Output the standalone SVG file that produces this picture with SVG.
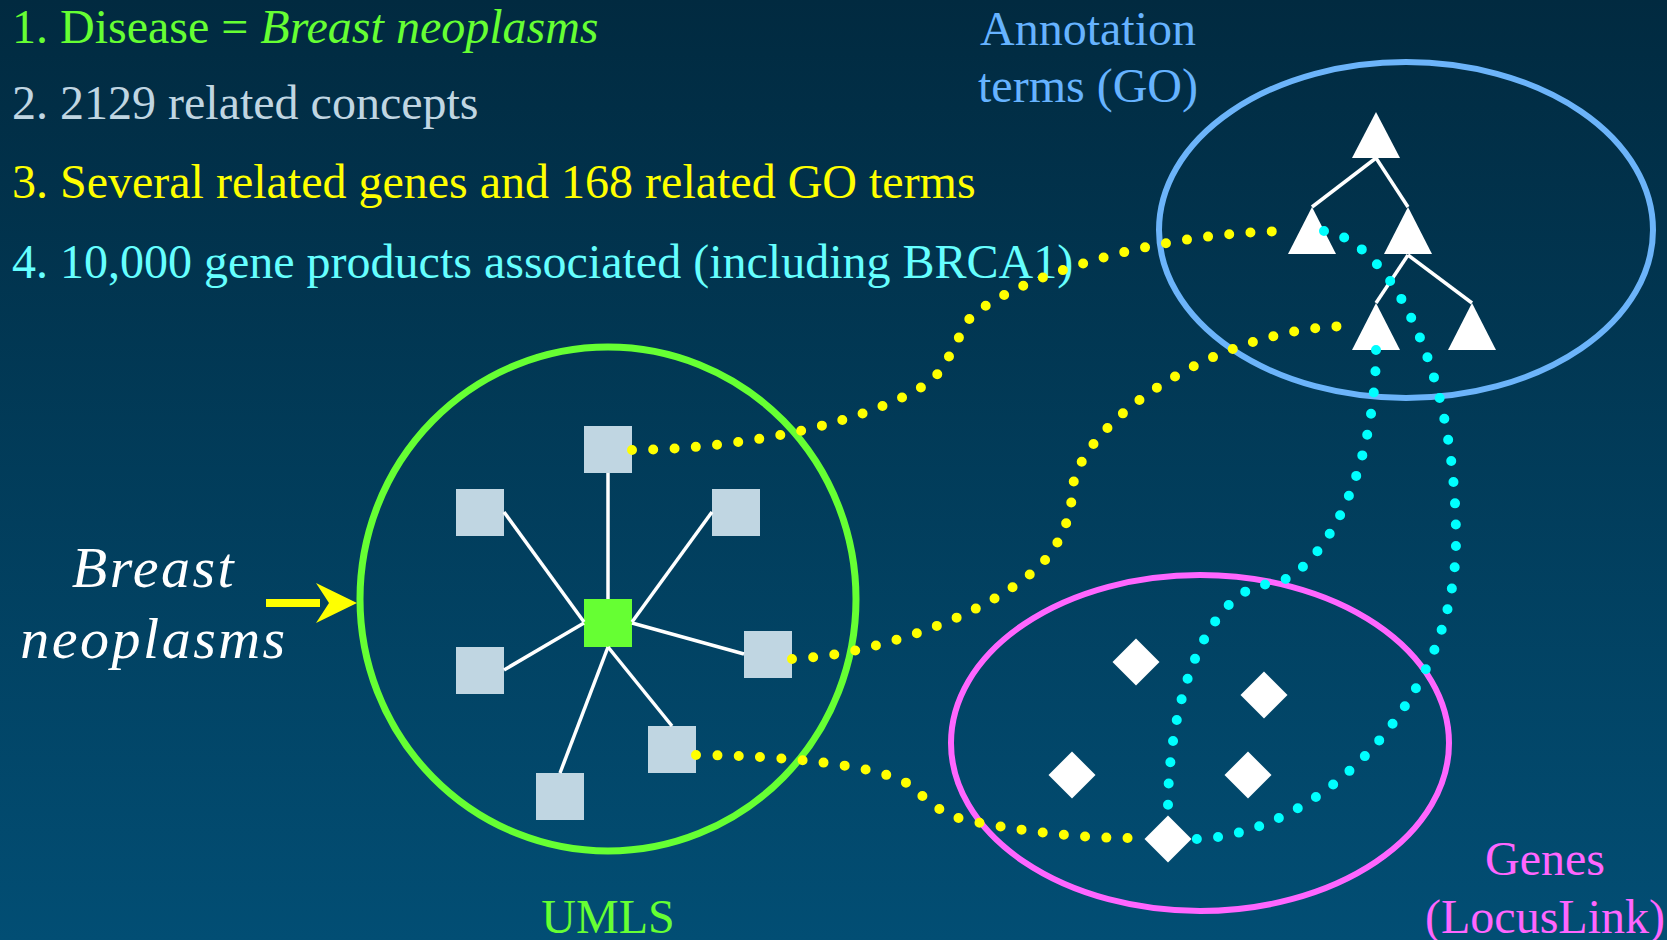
<svg xmlns="http://www.w3.org/2000/svg" width="1667" height="940" viewBox="0 0 1667 940">
<defs>
<linearGradient id="bg" x1="0" y1="0" x2="0" y2="1">
<stop offset="0" stop-color="#012a40"/>
<stop offset="1" stop-color="#024e74"/>
</linearGradient>
</defs>
<style>
text{font-family:"Liberation Serif","Times New Roman",serif;font-size:48px}
.sq{fill:#c0d6e2}
.tri,.dia{fill:#ffffff}
.edge{stroke:#ffffff;stroke-width:3.5;fill:none}
.dotY{stroke:#ffff00;stroke-width:10;stroke-linecap:round;stroke-dasharray:0 21.3;fill:none}
.dotC{stroke:#00ffff;stroke-width:10;stroke-linecap:round;stroke-dasharray:0 21.3;fill:none}
</style>
<rect x="0" y="0" width="1667" height="940" fill="url(#bg)"/>

<g id="legend">
<text x="12" y="43" fill="#66ff33">1. Disease = <tspan font-style="italic">Breast neoplasms</tspan></text>
<text x="12" y="119" fill="#c0d6e2">2. 2129 related concepts</text>
<text x="12" y="198" fill="#ffff00">3. Several related genes and 168 related GO terms</text>
<text x="12" y="278" fill="#66ffff">4. 10,000 gene products associated (including BRCA1)</text>
</g>

<g id="input-label">
<text x="154" y="587" fill="#ffffff" font-style="italic" letter-spacing="2.5" text-anchor="middle" style="font-size:58px">Breast</text>
<text x="154" y="658" fill="#ffffff" font-style="italic" letter-spacing="2.5" text-anchor="middle" style="font-size:58px">neoplasms</text>
<rect x="266" y="599" width="54" height="8" fill="#ffff00"/>
<polygon points="316,583 357,603 316,623 329,603" fill="#ffff00"/>
</g>

<g id="umls">
<ellipse cx="608" cy="599" rx="248" ry="252" fill="none" stroke="#66ff33" stroke-width="7"/>
<text x="608" y="933" fill="#66ff33" text-anchor="middle">UMLS</text>
</g>

<g id="go">
<ellipse cx="1406" cy="230" rx="247" ry="168" fill="none" stroke="#6cb4fa" stroke-width="6"/>
<text x="1088" y="45" fill="#66b3ff" text-anchor="middle">Annotation</text>
<text x="1088" y="102" fill="#66b3ff" text-anchor="middle">terms (GO)</text>
</g>

<g id="genes">
<ellipse cx="1200" cy="743" rx="249" ry="168" fill="none" stroke="#ff66ff" stroke-width="6"/>
<text x="1545" y="875" fill="#ff66ff" text-anchor="middle">Genes</text>
<text x="1545" y="933" fill="#ff66ff" text-anchor="middle">(LocusLink)</text>
</g>

<g id="concept-center"><rect x="584" y="599" width="48" height="48" fill="#66ff33"/></g>
<g id="concept-top"><rect class="sq" x="584" y="426" width="48" height="47"/></g>
<g id="concept-ul"><rect class="sq" x="456" y="489" width="48" height="47"/></g>
<g id="concept-ur"><rect class="sq" x="712" y="489" width="48" height="47"/></g>
<g id="concept-ll"><rect class="sq" x="456" y="647" width="48" height="47"/></g>
<g id="concept-r"><rect class="sq" x="744" y="631" width="48" height="47"/></g>
<g id="concept-lr"><rect class="sq" x="648" y="726" width="48" height="47"/></g>
<g id="concept-b"><rect class="sq" x="536" y="773" width="48" height="47"/></g>

<g id="go-root"><polygon class="tri" points="1376,112 1352,158 1400,158"/></g>
<g id="go-ml"><polygon class="tri" points="1312,207 1288,254 1336,254"/></g>
<g id="go-mr"><polygon class="tri" points="1408,207 1384,254 1432,254"/></g>
<g id="go-bl"><polygon class="tri" points="1376,303 1352,350 1400,350"/></g>
<g id="go-br"><polygon class="tri" points="1472,303 1448,350 1496,350"/></g>

<g id="gene-1"><polygon class="dia" points="1136,638.5 1159.5,662 1136,685.5 1112.5,662"/></g>
<g id="gene-2"><polygon class="dia" points="1264,671.5 1287.5,695 1264,718.5 1240.5,695"/></g>
<g id="gene-3"><polygon class="dia" points="1072,751.5 1095.5,775 1072,798.5 1048.5,775"/></g>
<g id="gene-4"><polygon class="dia" points="1248,751.5 1271.5,775 1248,798.5 1224.5,775"/></g>
<g id="gene-5"><polygon class="dia" points="1168,815.5 1191.5,839 1168,862.5 1144.5,839"/></g>

<g id="connectors">
<line class="edge" x1="608" y1="473" x2="608" y2="599"/>
<line class="edge" x1="504" y1="512" x2="584" y2="622"/>
<line class="edge" x1="712" y1="512" x2="632" y2="622"/>
<line class="edge" x1="504" y1="670" x2="584" y2="623"/>
<line class="edge" x1="632" y1="623" x2="744" y2="654"/>
<line class="edge" x1="608" y1="647" x2="672" y2="726"/>
<line class="edge" x1="608" y1="647" x2="560" y2="773"/>
<line class="edge" x1="1376" y1="158" x2="1312" y2="207"/>
<line class="edge" x1="1376" y1="158" x2="1408" y2="207"/>
<line class="edge" x1="1408" y1="255" x2="1376" y2="303"/>
<line class="edge" x1="1408" y1="255" x2="1472" y2="303"/>
<path class="dotY" d="M632,450 C740,449 860,425 925,385 C945,373 953,345 970,318 C1010,280 1150,232 1290,231"/>
<path class="dotY" d="M792,659 C880,655 1000,610 1045,560 C1065,537 1072,510 1073,485 C1085,420 1220,325 1354,326"/>
<path class="dotY" d="M696,755 C790,756 870,765 905,782 C925,795 935,815 975,822 C1030,832 1080,838 1128,838"/>
<path class="dotC" d="M1324,231 C1350,234 1375,258 1395,288 C1430,345 1456,430 1456,540 C1456,700 1320,835 1196,839"/>
<path class="dotC" d="M1376,350 C1376,440 1345,540 1290,577 C1275,585 1260,583 1248,590 C1195,620 1168,720 1168,808"/>
</g>
</svg>
